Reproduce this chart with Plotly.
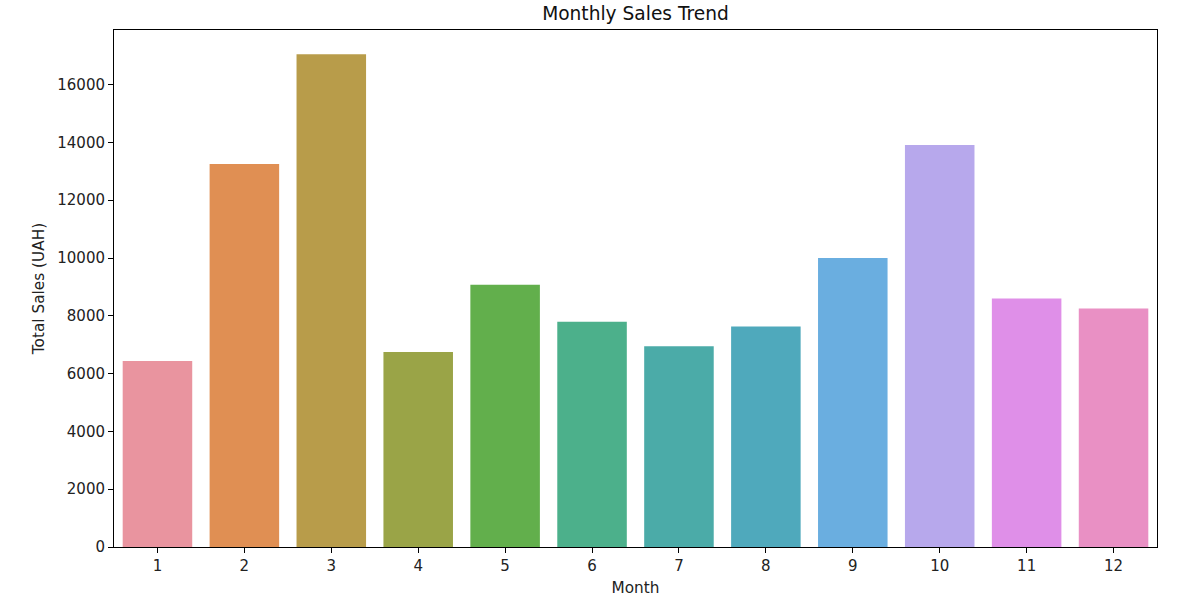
import plotly.graph_objects as go

months = [str(m) for m in range(1, 13)]
sales = [6435, 13250, 17050, 6746, 9071, 7793, 6943, 7634, 10003, 13907, 8601, 8256]
colors = ["#E9949F", "#E08F53", "#B89C4A", "#9AA447", "#62AF4C", "#4CB08B",
          "#4BABA8", "#4FA9BC", "#6AAEE0", "#B7A8EC", "#DF8FE8", "#E990C4"]
y_ticks = [0, 2000, 4000, 6000, 8000, 10000, 12000, 14000, 16000]

W, H = 1191, 607
fig = go.Figure(go.Bar(x=months, y=sales, marker=dict(color=colors, line=dict(width=0)),
                       width=0.8))

fnt = "DejaVu Sans, Arial, sans-serif"
L, R, T, B = 114, 34, 29.5, 60
fig.update_layout(
    width=W, height=H,
    paper_bgcolor="white", plot_bgcolor="white",
    margin=dict(l=L, r=R, t=T, b=B),
    font=dict(family=fnt, size=15, color="#222"),
    showlegend=False,
    bargap=0.2,
    title=dict(text="Monthly Sales Trend", x=(L + (W - R)) / 2 / W, xanchor="center",
               y=1 - 13.5 / H, yanchor="middle", yref="container",
               font=dict(family=fnt, size=18.6, color="#111")),
)
fig.update_xaxes(
    type="category", range=[-0.5, 11.5], automargin=False,
    showline=True, linecolor="black", linewidth=1, mirror=True,
    ticks="outside", ticklen=5, tickcolor="black", tickwidth=1,
    showgrid=False, zeroline=False,
    title=dict(text="Month", standoff=8, font=dict(size=15.3)),
)
fig.update_yaxes(
    range=[0, 17890], tickvals=y_ticks, ticktext=[str(v) for v in y_ticks],
    automargin=False,
    showline=True, linecolor="black", linewidth=1, mirror=True,
    ticks="outside", ticklen=5, tickcolor="black", tickwidth=1,
    showgrid=False, zeroline=False,
    title=dict(text="Total Sales (UAH)", standoff=8, font=dict(size=15.3)),
)
fig.write_html("out.html", config={"displayModeBar": False},
               post_script="document.body.style.margin='0px';")
